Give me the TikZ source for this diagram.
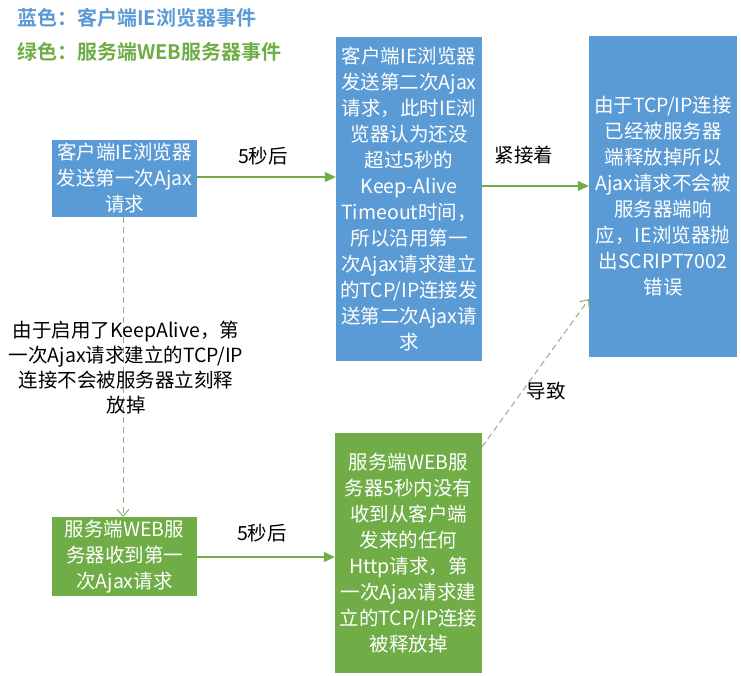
\documentclass[tikz,border=0pt]{standalone}
\usepackage{fontspec}
\setmainfont{Noto Sans CJK SC}[BoldFont={Noto Sans CJK SC Bold}]
\usetikzlibrary{arrows.meta}
\definecolor{boxblue}{HTML}{5B9BD5}
\definecolor{boxgreen}{HTML}{70AD47}
\definecolor{dashgreen}{HTML}{93AE7C}
\tikzset{
  evbox/.style={inner sep=0pt, text=white, align=center,
    font=\fontsize{19.5}{26}\selectfont},
  bluebox/.style={evbox, fill=boxblue},
  greenbox/.style={evbox, fill=boxgreen},
  lbl/.style={inner sep=0pt, text=black, align=center, font=\fontsize{19.5}{25}\selectfont},
  solidarrow/.style={boxgreen, line width=1.1pt, -{Triangle[length=11pt,width=10pt]}},
  dasharrow/.style={dashgreen, line width=1pt, dash pattern=on 6pt off 4pt, -{Straight Barb[length=7pt,width=12pt]}},
  legend/.style={inner sep=0pt, anchor=west, font=\fontsize{20}{24}\selectfont\bfseries}
}
\begin{document}
\begin{tikzpicture}[x=1pt,y=-1pt]
\useasboundingbox[fill=white] (0,0) rectangle (741,675);
\node[legend, text=boxblue] (leg1) at (17,18) {蓝色：客户端IE浏览器事件};
\node[legend, text=boxgreen] (leg2) at (17,52) {绿色：服务端WEB服务器事件};

\node[bluebox, minimum width=145pt, minimum height=77pt] (b1) at (124.5,178.5)
  {客户端IE浏览器\\发送第一次Ajax\\请求};
\node[bluebox, minimum width=146pt, minimum height=324pt] (b2) at (409,199)
  {客户端IE浏览器\\发送第二次Ajax\\请求，此时IE浏\\览器认为还没\\超过5秒的\\Keep-Alive\\Timeout时间，\\所以沿用第一\\次Ajax请求建立\\的TCP/IP连接发\\送第二次Ajax请\\求};
\node[bluebox, minimum width=148pt, minimum height=321pt] (b3) at (663,196.5)
  {由于TCP/IP连接\\已经被服务器\\端释放掉所以\\Ajax请求不会被\\服务器端响\\应，IE浏览器抛\\出SCRIPT7002\\错误};
\node[greenbox, minimum width=145pt, minimum height=79pt] (g1) at (124.5,556.5)
  {服务端WEB服\\务器收到第一\\次Ajax请求};
\node[greenbox, minimum width=147pt, minimum height=240pt] (g2) at (408.5,553)
  {服务端WEB服\\务器5秒内没有\\收到从客户端\\发来的任何\\Http请求，第\\一次Ajax请求建\\立的TCP/IP连接\\被释放掉};

\coordinate (b1e) at (b1.east |- 0,177);
\coordinate (b2w) at (b2.west |- 0,177);
\draw[solidarrow] (b1e) -- (b2w);
\node[lbl] (l1) at (263,156) {5秒后};

\coordinate (b2e) at (b2.east |- 0,186);
\coordinate (b3w) at (b3.west |- 0,186);
\draw[solidarrow] (b2e) -- (b3w);
\node[lbl] (l2) at (524,155) {紧接着};

\coordinate (g1e) at (g1.east |- 0,557);
\coordinate (g2w) at (g2.west |- 0,557);
\draw[solidarrow] (g1e) -- (g2w);
\node[lbl] (l3) at (262,533) {5秒后};

\coordinate (b1s) at (123,217);
\coordinate (g1n) at (123,517);
\draw[dasharrow] (b1s) -- (g1n);
\node[lbl] (l4) at (126,368) {由于启用了KeepAlive，第\\一次Ajax请求建立的TCP/IP\\连接不会被服务器立刻释\\放掉};

\coordinate (g2ne) at (482,447);
\coordinate (b3sw) at (589,299);
\draw[dasharrow] (g2ne) -- (b3sw);
\node[lbl] (l5) at (546,391) {导致};
\end{tikzpicture}
\end{document}
